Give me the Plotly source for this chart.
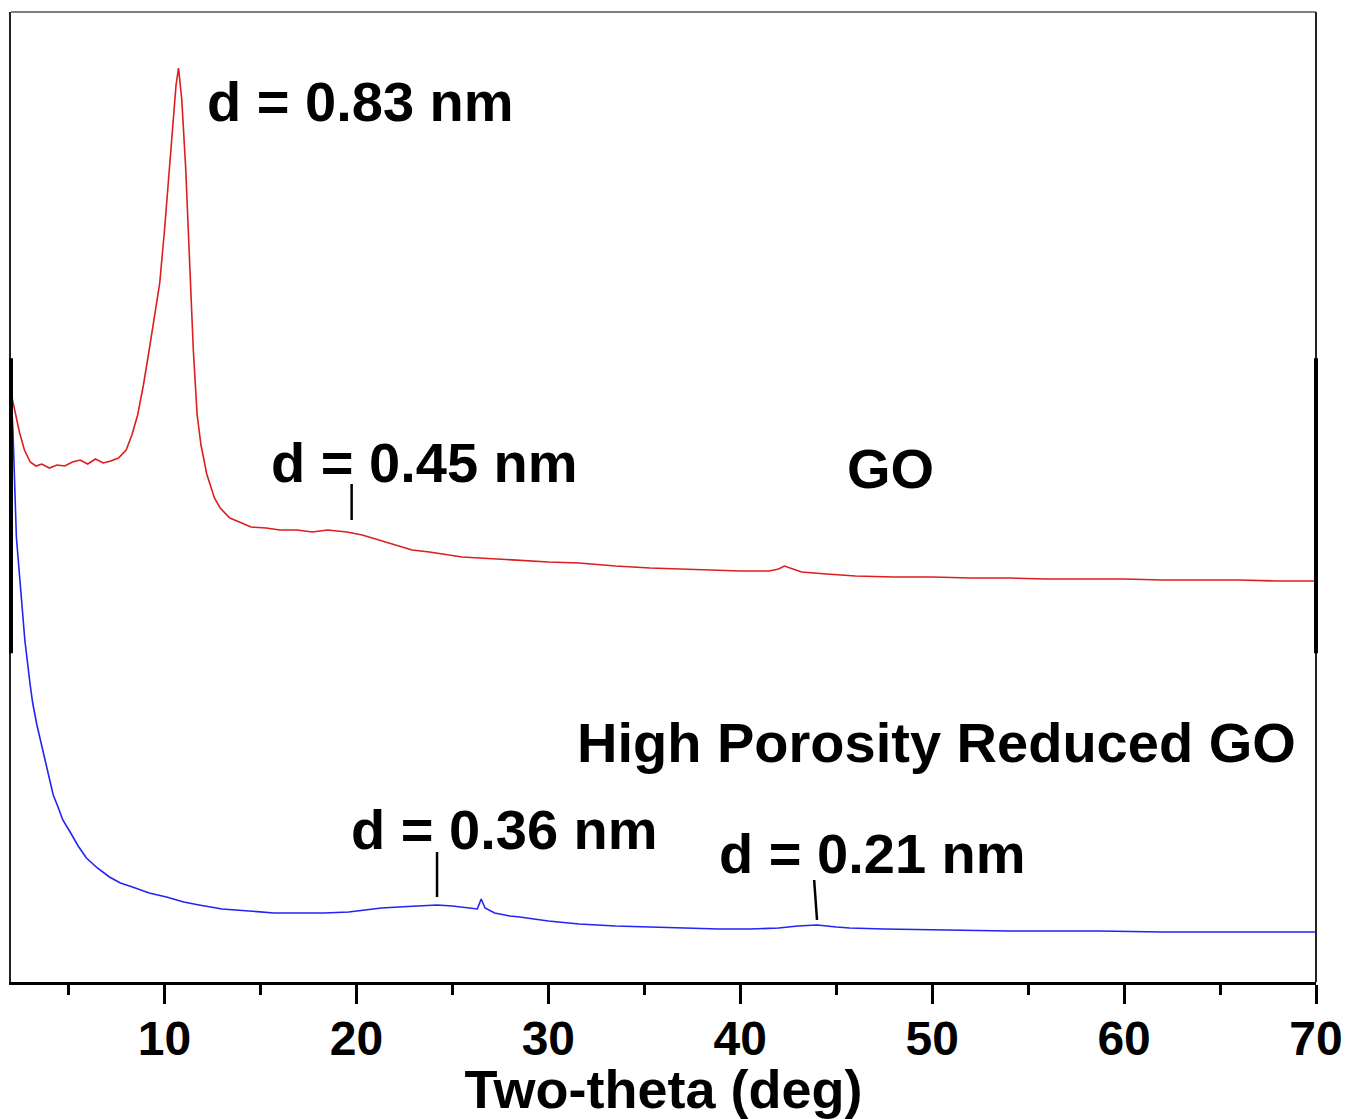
import plotly.graph_objects as go

# ---- data (intensity in arbitrary units) ----
go_two_theta = [2.0, 2.2, 2.45, 2.7, 3.0, 3.3, 3.6, 4.0, 4.4, 4.8, 5.2, 5.6, 6.0, 6.4, 6.8, 7.2, 7.6,
                8.0, 8.3, 8.6, 8.9, 9.2, 9.5, 9.75, 10.0, 10.2, 10.4, 10.6, 10.73, 10.9, 11.1, 11.3,
                11.5, 11.7, 11.9, 12.2, 12.6, 12.9, 13.4, 13.9, 14.5, 15.3, 16.0, 16.9, 17.7, 18.5,
                19.5, 20.3, 21.2, 22.0, 22.9, 23.8, 24.7, 25.5, 26.4, 28.1, 30.0, 31.6, 33.5, 35.3,
                37.0, 38.5, 40.0, 41.5, 42.0, 42.3, 42.7, 43.2, 44.5, 46.0, 48.0, 50.0, 52.0, 54.0,
                56.0, 58.0, 60.0, 62.0, 64.0, 66.0, 68.0, 70.0]
go_intensity = [589, 572, 549, 532, 520, 516, 518, 514, 517, 516, 520, 522, 518, 523, 519, 521, 524,
                532, 547, 567, 597, 632, 667, 699, 752, 802, 852, 897, 914, 882, 815, 715,
                632, 567, 537, 508, 484, 474, 464, 460, 455, 454, 452, 452, 450, 452,
                450, 447, 442, 437, 432, 430, 427, 425, 424, 422, 420, 419, 416, 414,
                413, 412, 411, 411, 413, 416, 413, 410, 408, 406, 405, 405, 404, 404,
                403, 403, 403, 402, 402, 402, 401, 401]

rgo_two_theta = [2.0, 2.1, 2.28, 2.5, 2.72, 3.0, 3.13, 3.35, 3.58, 3.8, 4.01, 4.2, 4.43, 4.7, 5.05,
                 5.5, 5.93, 6.5, 7.13, 7.7, 8.33, 9.2, 10.1, 11.0, 11.8, 13.0, 14.4, 15.7, 17.0,
                 18.3, 19.6, 20.5, 21.3, 22.2, 23.2, 24.2, 25.0, 25.9, 26.3, 26.5, 26.7, 27.2,
                 28.0, 28.5, 30.0, 31.6, 33.5, 35.3, 37.0, 38.9, 40.5, 42.0, 43.0, 44.0, 45.0,
                 45.7, 47.5, 50.9, 54.0, 58.7, 62.0, 66.0, 70.0]
rgo_intensity = [590, 552, 445, 392, 342, 297, 279, 257, 238, 217, 201, 187, 176, 162, 151,
                 136, 124, 114, 105, 99, 95, 89, 85, 80, 77, 73, 71, 69, 69,
                 69, 70, 72, 74, 75, 76, 77, 76, 74, 73, 83, 74, 69,
                 66, 65, 61, 58, 56, 55, 54, 53, 53, 54, 56, 57, 55,
                 54, 53, 52, 51, 51, 50, 50, 50]

# peak labels
label_texts = ["d = 0.83 nm", "d = 0.45 nm", "GO", "High Porosity Reduced GO", "d = 0.36 nm", "d = 0.21 nm"]
label_x = [12.1, 15.45, 45.45, 31.4, 19.6, 38.8]
label_y = [881, 520, 514, 240, 153, 129]

# short marker lines pointing at peaks
marker_x0 = [19.75, 24.2, 44.0]
marker_x1 = [19.75, 24.2, 43.85]
marker_y0 = [462, 85, 62]
marker_y1 = [498, 130, 102]

x_tick_vals = [10, 20, 30, 40, 50, 60, 70]
x_tick_text = ["10", "20", "30", "40", "50", "60", "70"]

FONT = "Liberation Sans, Arial, sans-serif"

fig = go.Figure()
fig.add_trace(go.Scatter(x=go_two_theta, y=go_intensity, mode="lines",
                         line=dict(color="#dc1e1e", width=1.6), showlegend=False, hoverinfo="skip"))
fig.add_trace(go.Scatter(x=rgo_two_theta, y=rgo_intensity, mode="lines",
                         line=dict(color="#2323f5", width=1.6), showlegend=False, hoverinfo="skip"))
for a, b, c, d in zip(marker_x0, marker_x1, marker_y0, marker_y1):
    fig.add_trace(go.Scatter(x=[a, b], y=[c, d], mode="lines",
                             line=dict(color="black", width=2.5), showlegend=False, hoverinfo="skip"))

for t, x, y in zip(label_texts, label_x, label_y):
    fig.add_annotation(x=x, y=y, text=t, showarrow=False, xanchor="left", yanchor="middle",
                       font=dict(family=FONT, size=56, color="black", weight="bold"))

# frame details (thin top/right, thicker middle segments on left and right)
fig.add_shape(type="line", xref="paper", yref="paper", x0=0, x1=1, y0=1, y1=1,
              line=dict(color="#555555", width=1.5))
fig.add_shape(type="line", xref="paper", yref="paper", x0=1, x1=1, y0=0, y1=1,
              line=dict(color="#222222", width=2))
fig.add_shape(type="line", xref="paper", yref="paper", x0=1, x1=1, y0=0.339, y1=0.643,
              line=dict(color="black", width=4))
fig.add_shape(type="line", xref="paper", yref="paper", x0=0, x1=0, y0=0.339, y1=0.643,
              line=dict(color="black", width=4))

# the page adds an 8px body margin, so the figure is 8px smaller and shifted
fig.update_layout(
    width=1341, height=1111,
    margin=dict(l=3, r=33, t=4, b=137),
    paper_bgcolor="white", plot_bgcolor="white",
    showlegend=False,
    xaxis=dict(range=[2, 70], tickmode="array", tickvals=x_tick_vals, ticktext=x_tick_text,
               ticks="outside", ticklen=19, tickwidth=2.5, tickcolor="black",
               ticklabelstandoff=-7,
               minor=dict(ticks="outside", ticklen=10, tickwidth=2.5, tickcolor="black",
                          dtick=5, tick0=0),
               showline=True, linewidth=3, linecolor="black", showgrid=False, zeroline=False,
               tickfont=dict(family=FONT, size=48, color="black", weight="bold"),
               title=dict(text="Two-theta (deg)", standoff=1,
                          font=dict(family=FONT, size=54, color="black", weight="bold"))),
    yaxis=dict(range=[0, 970], showticklabels=False, ticks="", showgrid=False, zeroline=False,
               showline=True, linewidth=2, linecolor="#222222"),
)

fig.write_html("out.html")
